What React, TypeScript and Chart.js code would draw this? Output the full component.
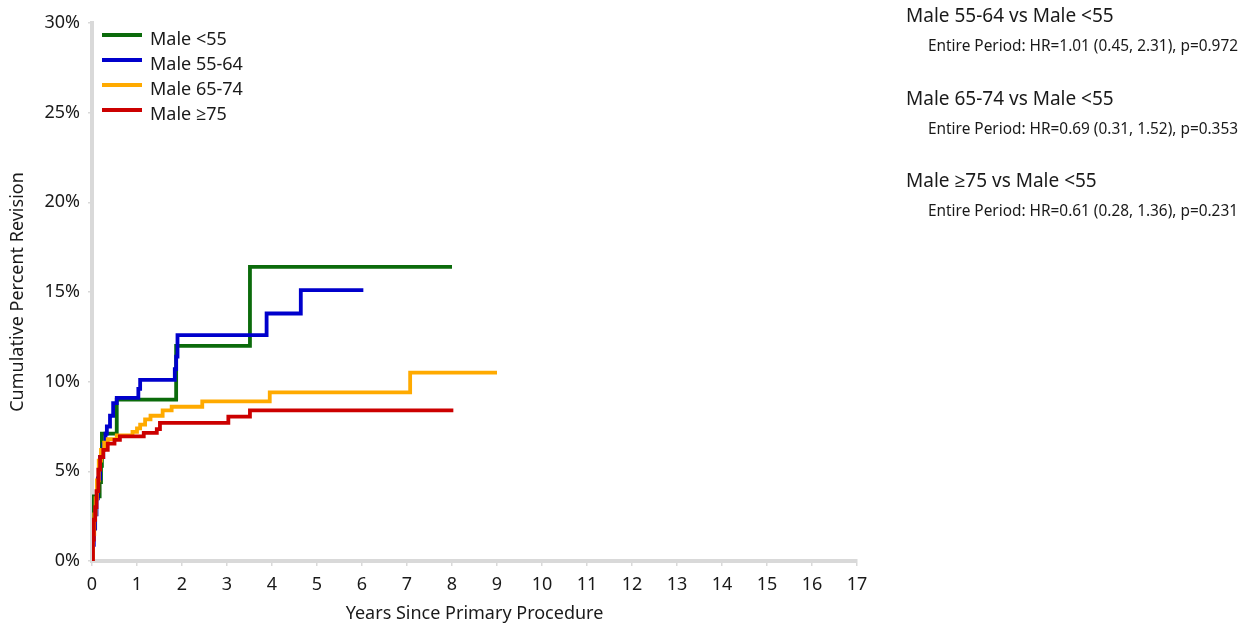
import React, { useEffect, useRef } from "react";
import { Chart, registerables } from "chart.js";

Chart.register(...registerables);

// ---------- data ----------
const seriesLabels = ["Male <55", "Male 55-64", "Male 65-74", "Male \u226575"];
const seriesColors = ["#0b6b0b", "#0000cc", "#ffaa00", "#cc0000"];

const maleUnder55Years = [0, 0.02, 0.17, 0.2, 0.22, 0.55, 1.87, 3.51, 8.0];
const maleUnder55Pct = [0, 3.6, 4.4, 5.3, 7.1, 9.0, 12.0, 16.4, 16.4];

const male5564Years = [0, 0.02, 0.04, 0.07, 0.1, 0.13, 0.18, 0.25, 0.3, 0.33, 0.4, 0.47, 0.55, 1.03, 1.07, 1.84, 1.87, 1.9, 3.88, 4.64, 6.03];
const male5564Pct = [0, 0.9, 1.8, 2.6, 3.5, 4.6, 5.8, 6.5, 7.1, 7.5, 8.1, 8.8, 9.1, 9.6, 10.1, 10.7, 11.4, 12.6, 13.8, 15.1, 15.1];

const male6574Years = [0, 0.02, 0.05, 0.08, 0.11, 0.15, 0.2, 0.27, 0.35, 0.55, 0.9, 1.0, 1.07, 1.18, 1.3, 1.57, 1.77, 2.45, 3.95, 7.07, 9.0];
const male6574Pct = [0, 1.5, 2.6, 3.5, 4.5, 5.6, 6.2, 6.6, 6.8, 7.0, 7.2, 7.4, 7.6, 7.9, 8.1, 8.4, 8.6, 8.9, 9.4, 10.5, 10.5];

const male75Years = [0, 0.02, 0.04, 0.07, 0.1, 0.14, 0.18, 0.25, 0.35, 0.5, 0.62, 1.15, 1.44, 1.51, 3.03, 3.51, 8.03];
const male75Pct = [0, 1.2, 2.3, 3.0, 3.9, 5.1, 5.8, 6.2, 6.55, 6.75, 6.95, 7.15, 7.35, 7.7, 8.05, 8.4, 8.4];

const xMin = 0;
const xMax = 17;
const yMin = 0;
const yMax = 30;
const yStep = 5;

const xAxisTitle = "Years Since Primary Procedure";
const yAxisTitle = "Cumulative Percent Revision";

const comparisonTitles = ["Male 55-64 vs Male <55", "Male 65-74 vs Male <55", "Male \u226575 vs Male <55"];
const comparisonStats = [
  "Entire Period: HR=1.01 (0.45, 2.31), p=0.972",
  "Entire Period: HR=0.69 (0.31, 1.52), p=0.353",
  "Entire Period: HR=0.61 (0.28, 1.36), p=0.231",
];

const FONT = '"Segoe UI", "Noto Sans", "Open Sans", sans-serif';
const TEXT = "#1a1a1a";
const AXIS = "#d9d9d9";

const seriesYears = [maleUnder55Years, male5564Years, male6574Years, male75Years];
const seriesPct = [maleUnder55Pct, male5564Pct, male6574Pct, male75Pct];

const legendPlugin = {
  id: "customLegend",
  afterDraw(chart: any) {
    const ctx = chart.ctx;
    const area = chart.chartArea;
    ctx.save();
    chart.data.datasets.forEach((ds: any, i: number) => {
      const y = area.top + 12 + i * 25;
      ctx.strokeStyle = ds.borderColor;
      ctx.lineWidth = 4;
      ctx.beginPath();
      ctx.moveTo(area.left + 10, y);
      ctx.lineTo(area.left + 50, y);
      ctx.stroke();
      ctx.fillStyle = TEXT;
      ctx.font = `18px ${FONT}`;
      ctx.textBaseline = "middle";
      ctx.textAlign = "left";
      ctx.fillText(ds.label, area.left + 58, y + 5);
    });
    ctx.restore();
  },
};

const sidePlugin = {
  id: "sideText",
  afterDraw(chart: any) {
    const ctx = chart.ctx;
    ctx.save();
    ctx.fillStyle = TEXT;
    ctx.textBaseline = "middle";
    ctx.textAlign = "left";
    comparisonTitles.forEach((t, i) => {
      ctx.font = `19px ${FONT}`;
      ctx.fillText(t, 906, 17 + i * 82.5);
      ctx.font = `15.4px ${FONT}`;
      ctx.fillText(comparisonStats[i], 928, 47 + i * 82.5);
    });
    ctx.restore();
  },
};

export default function App() {
  const canvasRef = useRef<HTMLCanvasElement | null>(null);

  useEffect(() => {
    if (!canvasRef.current) return;
    const datasets = seriesLabels.map((label, i) => ({
      label,
      data: seriesYears[i].map((x, j) => ({ x, y: seriesPct[i][j] })),
      borderColor: seriesColors[i],
      backgroundColor: seriesColors[i],
      borderWidth: 3.8,
      pointRadius: 0,
      stepped: "before" as const,
      fill: false,
      borderJoinStyle: "miter" as const,
      borderCapStyle: "butt" as const,
      order: seriesLabels.length - i,
    }));
    const chart = new Chart(canvasRef.current, {
      type: "line",
      data: { datasets },
      options: {
        animation: false,
        responsive: false,
        maintainAspectRatio: false,
        layout: { padding: { left: 0, top: 23, right: 383, bottom: 0 } },
        plugins: { legend: { display: false }, tooltip: { enabled: false } },
        scales: {
          x: {
            type: "linear",
            min: xMin,
            max: xMax,
            afterFit(scale: any) {
              scale.height = 64;
            },
            ticks: { stepSize: 1, font: { size: 18, family: FONT }, color: TEXT, padding: 8, maxRotation: 0, autoSkip: false },
            grid: { drawOnChartArea: false, drawTicks: true, tickLength: 5, color: AXIS, lineWidth: 1.5 },
            border: { color: AXIS, width: 4 },
            title: { display: true, text: xAxisTitle, font: { size: 18, family: FONT }, color: TEXT, padding: { top: 0, bottom: 0 } },
          },
          y: {
            min: yMin,
            max: yMax,
            afterFit(scale: any) {
              scale.width = 92;
            },
            ticks: { stepSize: yStep, font: { size: 18, family: FONT }, color: TEXT, padding: 8, callback: (v: any) => `${v}%` },
            grid: { drawOnChartArea: false, drawTicks: true, tickLength: 4, color: AXIS, lineWidth: 1.5 },
            border: { color: AXIS, width: 4 },
            title: { display: true, text: yAxisTitle, font: { size: 18, family: FONT }, color: TEXT, padding: { top: 7, bottom: 0 } },
          },
        },
      },
      plugins: [legendPlugin, sidePlugin],
    });
    return () => chart.destroy();
  }, []);

  return (
    <div style={{ position: "fixed", left: 0, top: 0, width: 1240, height: 625, background: "#fff" }}>
      <canvas ref={canvasRef} width={1240} height={625} style={{ display: "block" }} />
    </div>
  );
}
